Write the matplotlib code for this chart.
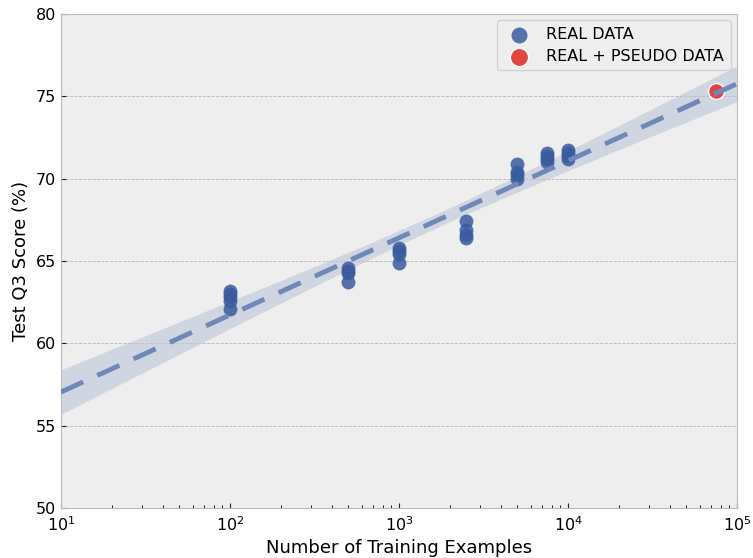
import numpy as np
import matplotlib
matplotlib.use("Agg")
import matplotlib.pyplot as plt

# Data
real_x = [100]*5 + [500]*4 + [1000]*4 + [2500]*4 + [5000]*4 + [7500]*4 + [10000]*4
real_y = [63.2, 63.0, 62.8, 62.6, 62.1,
          64.6, 64.4, 64.3, 63.7,
          65.8, 65.6, 65.4, 64.9,
          67.4, 66.9, 66.6, 66.4,
          70.9, 70.4, 70.2, 70.0,
          71.55, 71.4, 71.2, 71.0,
          71.75, 71.55, 71.4, 71.2]
pseudo_x = [75000]
pseudo_y = [75.3]
labels = ["REAL DATA", "REAL + PSEUDO DATA"]

blue = "#3a5b9e"
red = "#e0463c"

fig = plt.figure(figsize=(7.53, 5.58), dpi=100)
ax = fig.add_axes([61/753, 1-508/558, (737-61)/753, (508-14)/558])
ax.set_facecolor("#eeeeee")

# regression on log10(x)
allx = np.log10(np.array(real_x + pseudo_x, float))
ally = np.array(real_y + pseudo_y, float)
n = len(allx)
b, a = np.polyfit(allx, ally, 1)
resid = ally - (a + b*allx)
s = np.sqrt(np.sum(resid**2)/(n-2))
xm = allx.mean()
sxx = np.sum((allx-xm)**2)
gx = np.linspace(1, 5, 200)
gy = a + b*gx
se = s*np.sqrt(1/n + (gx-xm)**2/sxx)
t = 2.04
ax.fill_between(10**gx, gy - t*se*1.15, gy + t*se*1.15, color="#bcc6d9", alpha=0.6, lw=0, zorder=1)
ax.plot(10**gx, gy, ls=(0, (5, 3.2)), lw=3.5, color="#6f88b8", zorder=4)

ax.scatter(real_x, real_y, s=100, color=blue, alpha=0.85, lw=0, zorder=3, label=labels[0])
ax.scatter(pseudo_x, pseudo_y, s=130, color=red, edgecolor="white", lw=1, zorder=3, label=labels[1])

ax.set_xscale("log")
ax.set_xlim(10, 1e5)
ax.set_ylim(50, 80)
ax.set_yticks([50, 55, 60, 65, 70, 75, 80])
ax.yaxis.grid(True, ls="--", lw=0.6, color="#b8b8b8")
ax.set_axisbelow(True)
ax.tick_params(direction="in", labelsize=11.5, color="#222222")
ax.tick_params(axis="x", which="minor", direction="in")
ax.tick_params(axis="x", pad=5)
for sp in ax.spines.values():
    sp.set_color("#bbbbbb")
ax.set_xlabel("Number of Training Examples", fontsize=13)
ax.set_ylabel("Test Q3 Score (%)", fontsize=13)
leg = ax.legend(loc="upper right", fontsize=11.5, frameon=True, facecolor="#eeeeee",
                edgecolor="#cccccc", markerscale=1.15, borderpad=0.4,
                labelspacing=0.45, borderaxespad=0.4, handletextpad=0.7)
fig.savefig("out.png", dpi=100)
